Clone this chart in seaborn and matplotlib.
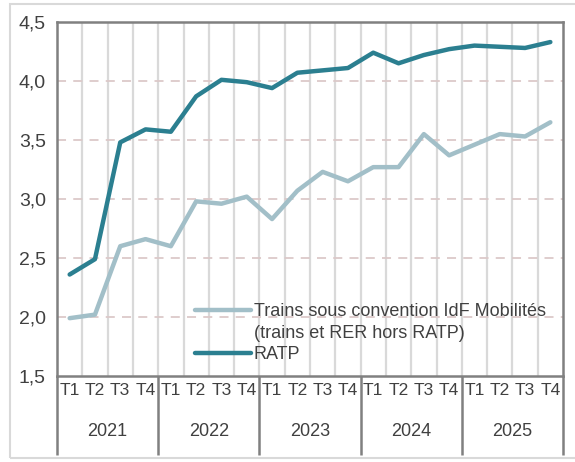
import numpy as np
import pandas as pd
import matplotlib
matplotlib.use("Agg")
import matplotlib.pyplot as plt
import matplotlib.transforms as mtransforms
from matplotlib.lines import Line2D
from matplotlib.patches import Rectangle
from matplotlib.ticker import FuncFormatter, MultipleLocator
import seaborn as sns

# Data
years = ["2021", "2022", "2023", "2024", "2025"]
quarters = ["T1", "T2", "T3", "T4"]
ratp = [2.36, 2.49, 3.48, 3.59, 3.57, 3.87, 4.01, 3.99, 3.94, 4.07,
        4.09, 4.11, 4.24, 4.15, 4.22, 4.27, 4.30, 4.29, 4.28, 4.33]
trains = [1.99, 2.02, 2.60, 2.66, 2.60, 2.98, 2.96, 3.02, 2.83, 3.07,
          3.23, 3.15, 3.27, 3.27, 3.55, 3.37, 3.46, 3.55, 3.53, 3.65]
lbl_trains = "Trains sous convention IdF Mobilités"
lbl_trains2 = "(trains et RER hors RATP)"
lbl_ratp = "RATP"

n = len(years) * len(quarters)
df = pd.DataFrame({
    "pos": list(range(n)) * 2,
    "value": trains + ratp,
    "serie": [lbl_trains] * n + [lbl_ratp] * n,
})
palette = {lbl_trains: "#a2bfc8", lbl_ratp: "#2b7f90"}

sns.set_style("white")
plt.rcParams["font.family"] = ["Liberation Sans", "DejaVu Sans"]

fig = plt.figure(figsize=(5.75, 4.62), dpi=100)
ax = fig.add_axes([57 / 575, 1 - 376 / 462, (563 - 57) / 575, (376 - 22) / 462])

# light frame around the whole chart
fig.patches.append(Rectangle((10 / 575, 4 / 462), 1, 1 - 8 / 462, transform=fig.transFigure,
                             fill=False, edgecolor="#d9d9d9", lw=1.5))

sns.lineplot(data=df, x="pos", y="value", hue="serie", palette=palette,
             linewidth=3.2, ax=ax, legend=False, zorder=3)

ax.set_xlim(-0.5, n - 0.5)
ax.set_ylim(1.5, 4.5)
ax.yaxis.set_major_locator(MultipleLocator(0.5))
ax.yaxis.set_major_formatter(FuncFormatter(lambda v, p: f"{v:.1f}".replace(".", ",")))
ax.tick_params(axis="y", direction="inout", length=10, width=1.5, color="#808080",
               labelsize=14, labelcolor="#404040", pad=3)

ax.set_xticks(range(n))
ax.set_xticklabels(quarters * len(years))
ax.tick_params(axis="x", length=0, labelsize=12.5, labelcolor="#404040", pad=5)
ax.set_xticks(np.arange(0.5, n - 1, 1), minor=True)
ax.tick_params(axis="x", which="minor", length=0)
ax.set_xlabel("")
ax.set_ylabel("")

# grid
ax.grid(False)
ax.xaxis.grid(True, which="minor", color="#d9d9d9", lw=1.6)
for v in [2.0, 2.5, 3.0, 3.5, 4.0]:
    ax.axhline(v, color="#dcc9c9", lw=1.3, ls=(0, (5, 4)), zorder=1)

for side in ["left", "bottom", "top", "right"]:
    ax.spines[side].set_visible(True)
    ax.spines[side].set_color("#808080")
    ax.spines[side].set_linewidth(1.8)

# year level of the x axis
trans = mtransforms.blended_transform_factory(ax.transData, ax.transAxes)
bottom = -(455 - 376) / 354
for k in range(len(years) + 1):
    xb = k * len(quarters) - 0.5
    ax.plot([xb, xb], [0, bottom], transform=trans, color="#808080", lw=1.8,
            clip_on=False, solid_capstyle="butt")
for k, yr in enumerate(years):
    ax.text(k * len(quarters) + 1.5, -(432 - 376) / 354, yr, transform=trans,
            ha="center", va="center", fontsize=13, color="#404040")

# legend
handles = [Line2D([], [], color=palette[lbl_trains], lw=3.2),
           Line2D([], [], color="none"),
           Line2D([], [], color=palette[lbl_ratp], lw=3.2)]
leg = ax.legend(handles, [lbl_trains, lbl_trains2, lbl_ratp], loc="upper left",
                bbox_to_anchor=((195 - 57) / 506, (376 - 303) / 354), frameon=False,
                fontsize=13, handlelength=3.1, handletextpad=0.15, labelspacing=0.25,
                borderpad=0, borderaxespad=0)
for t in leg.get_texts():
    t.set_color("#404040")

fig.savefig("out.png", dpi=100)
